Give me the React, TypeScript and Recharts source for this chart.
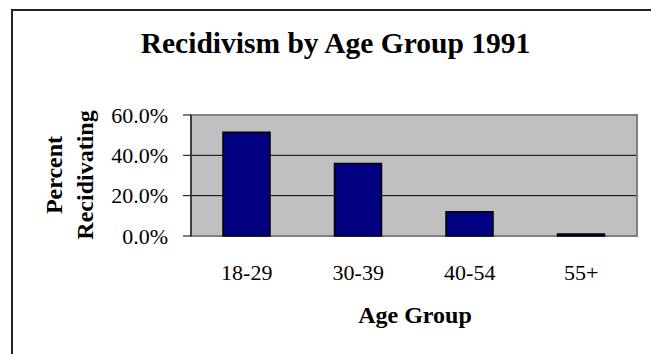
import React from "react";
import { BarChart, Bar, XAxis, YAxis, CartesianGrid, ReferenceArea } from "recharts";

const ageGroups = ["18-29", "30-39", "40-54", "55+"];
const percentRecidivating = [51.5, 36.0, 12.0, 1.0];
const percentTicks = [0, 20, 40, 60];
const gridValues = [20, 40];
const categoryEdges = [0, 1, 2, 3, 4];

const rows = ageGroups.map((group, i) => ({ group, pct: percentRecidivating[i] }));

const serif = '"Liberation Serif", "Times New Roman", serif';

/** Excel-style column chart: gray plot, navy bars, ticks between categories. */
export default function App() {
  return (
    <div
      style={{
        position: "absolute",
        left: 0,
        top: 0,
        width: 651,
        height: 354,
        background: "#fff",
        overflow: "hidden",
        fontFamily: serif,
      }}
    >
      <div
        style={{
          position: "absolute",
          left: 11,
          top: 9,
          width: 700,
          height: 400,
          borderTop: "2px solid #222",
          borderLeft: "2px solid #222",
        }}
      />
      <BarChart
        width={651}
        height={354}
        data={rows}
        margin={{ top: 115, right: 14, bottom: 88, left: 0 }}
        barSize={47}
      >
        <CartesianGrid
          xAxisId="cats"
          horizontalValues={gridValues}
          vertical={false}
          fill="#c0c0c0"
          fillOpacity={1}
          stroke="#000"
        />
        <ReferenceArea xAxisId="cats" x1="18-29" x2="55+" y1={0} y2={60} fill="none" stroke="#808080" strokeWidth={2} />
        <XAxis
          xAxisId="edges"
          type="number"
          domain={[0, 4]}
          ticks={categoryEdges}
          tick={false}
          tickSize={7}
          height={0}
          stroke="#000"
        />
        <XAxis
          xAxisId="cats"
          dataKey="group"
          tickLine={false}
          axisLine={false}
          tickSize={0}
          tickMargin={28}
          height={30}
          stroke="#000"
          tick={{ fill: "#000", fontSize: 22, fontFamily: serif }}
        />
        <YAxis
          domain={[0, 60]}
          ticks={percentTicks}
          width={191}
          tickSize={8}
          tickMargin={15}
          stroke="#000"
          tick={{ fill: "#000", fontSize: 22, fontFamily: serif }}
          tickFormatter={(v: number) => `${v.toFixed(1)}%`}
        />
        <Bar xAxisId="cats" dataKey="pct" fill="#000080" stroke="#000" strokeWidth={1.5} isAnimationActive={false} />
      </BarChart>
      <svg
        width={651}
        height={354}
        style={{ position: "absolute", left: 0, top: 0, pointerEvents: "none" }}
        fontFamily={serif}
        fontWeight="bold"
        fill="#000"
      >
        <text x={335.5} y={53} textAnchor="middle" fontSize={29.5}>
          Recidivism by Age Group 1991
        </text>
        <text transform="translate(62,175) rotate(-90)" textAnchor="middle" fontSize={24}>
          Percent
        </text>
        <text transform="translate(93,175) rotate(-90)" textAnchor="middle" fontSize={24}>
          Recidivating
        </text>
        <text x={415} y={322.5} textAnchor="middle" fontSize={24}>
          Age Group
        </text>
      </svg>
    </div>
  );
}
